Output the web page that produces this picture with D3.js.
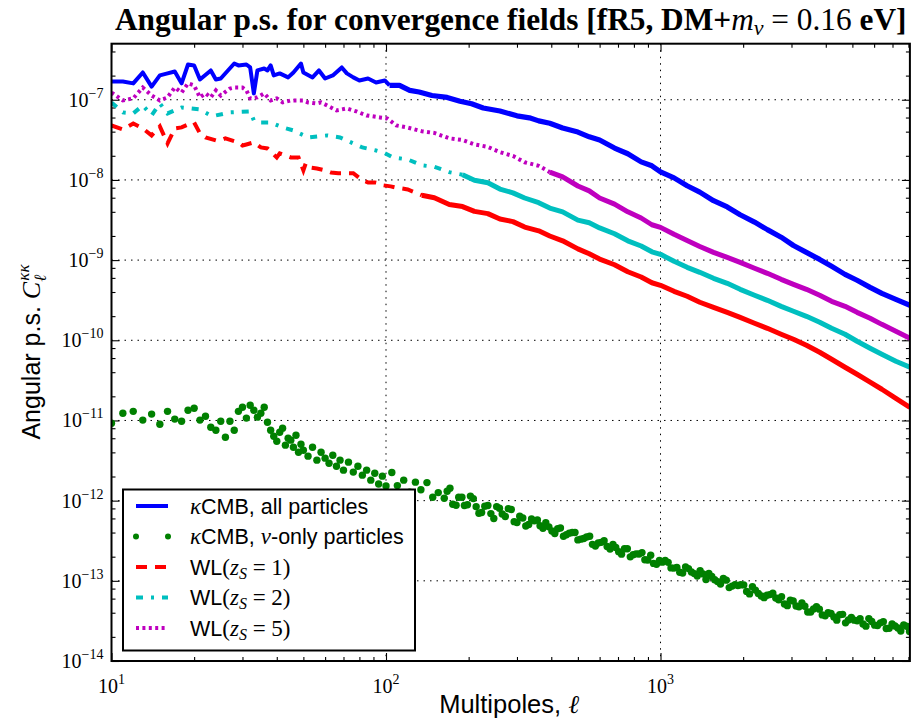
<!DOCTYPE html>
<html><head><meta charset="utf-8">
<script src="https://cdn.jsdelivr.net/npm/d3@7/dist/d3.min.js"></script>
<style>body{margin:0;background:#fff}svg{display:block}</style>
</head><body>
<svg id="c" width="911" height="721"></svg>
<script>
// ---------- data ----------
const xDomain = [10, 8100];
const yDomain = [1e-14, 5e-7];
const xMajorExps = [1, 2, 3];
const yMajorExps = [-14, -13, -12, -11, -10, -9, -8, -7];

const blueEll = [10,11,12,13,14,15,16,17,18,19,20,21,23,24,25,28,29,31,32,33,34,36,37,38,39,41,44,46,49,50,54,57,60,64,69,72,76,80,86,92,99,103,112,122,132,147,167,186,205,226,260,300,333,360,395,440,500,550,600,680,760,850,930,1000,1120,1250,1390,1560,1750,1950,2200,2450,2750,3050,3400,3800,4200,4700,5200,5800,6400,7200,8100];
const blueVal = [1.69e-7,1.69e-7,1.60e-7,2.19e-7,1.46e-7,2.01e-7,2.13e-7,2.25e-7,1.60e-7,2.75e-7,2.68e-7,1.79e-7,2.32e-7,1.79e-7,1.84e-7,2.83e-7,2.68e-7,2.75e-7,2.53e-7,1.20e-7,2.32e-7,2.45e-7,2.32e-7,2.68e-7,2.01e-7,2.13e-7,1.90e-7,2.19e-7,2.83e-7,2.19e-7,1.90e-7,2.32e-7,1.84e-7,2.01e-7,2.53e-7,2.13e-7,1.90e-7,1.74e-7,1.84e-7,1.64e-7,1.74e-7,1.51e-7,1.51e-7,1.31e-7,1.25e-7,1.13e-7,1.07e-7,9.6e-8,8.9e-8,7.9e-8,7.25e-8,6.3e-8,5.95e-8,5.45e-8,5.1e-8,4.45e-8,3.95e-8,3.45e-8,3.15e-8,2.50e-8,2.12e-8,1.68e-8,1.50e-8,1.26e-8,1.06e-8,8.45e-9,7.05e-9,5.5e-9,4.6e-9,3.68e-9,2.98e-9,2.40e-9,1.93e-9,1.52e-9,1.25e-9,1.02e-9,8.36e-10,6.64e-10,5.60e-10,4.57e-10,3.85e-10,3.24e-10,2.73e-10];

const greenEll = [10,11,12,13,14,15,16,17,18,19,20,21,22,23,24,25,26,27,28,29,30,31,32,33,34,35,36,37,38,39,40,41,42,43,44,45,46,47,48,49,50,52,54,56,58,60,62,64,66,68,70,73,76,79,82,85,88,91,94,97,100,
105,110,116,122,128,134,141,148,155,163,171,180,189,198,208,218,229,241,253,265,279,293,307,323,339,356,373,392,412,432,454,477,500,525,552,579,608,639,671,704,739,776,815,856,899,943,991,1040,1092,1147,1204,1264,1328,1394,1464,1537,1614,1694,1779,1868,1961,2059,2162,2271,2384,2503,2629,2760,2898,3043,3195,3355,3523,3699,3884,4078,4282,4496,4721,4957,5205,5465,5739,6026,6327,6643,6976,7324,7691,8075,
167,175,184,193,203,213,223,235,247,259,272,286,300,315,
331,347,364,382,402,422,443,465,488,512,538,565,593,623,655,687,721,757,795,835,877,921,967,1015,1066,1119,1175,1234,1296,1361,1429,1500,1575,1654,1736,1823,1914,2010,2110,2216,2327,2443,2565,2694,2828,2970,3118,3274,3438,3610,3790,3980,4179,4387,4607,4837,5079,5333,5600,5880,6174,6482,6806,7147,7504,7880];
const greenVal = [9.24e-12,1.23e-11,1.30e-11,1.01e-11,1.20e-11,8.98e-12,1.30e-11,1.04e-11,9.79e-12,1.34e-11,1.42e-11,1.01e-11,1.13e-11,8.24e-12,7.56e-12,9.79e-12,6.18e-12,9.79e-12,7.56e-12,1.30e-11,1.46e-11,1.07e-11,1.55e-11,1.34e-11,1.10e-11,1.23e-11,1.46e-11,9.51e-12,7.56e-12,6.36e-12,5.51e-12,7.14e-12,8.01e-12,4.92e-12,6.01e-12,5.68e-12,4.64e-12,6.55e-12,4.02e-12,5.06e-12,4.26e-12,3.59e-12,4.64e-12,3.20e-12,4.02e-12,3.39e-12,2.93e-12,3.69e-12,2.69e-12,3.20e-12,2.40e-12,3.02e-12,2.27e-12,2.69e-12,2.08e-12,2.40e-12,1.80e-12,2.20e-12,1.61e-12,2.02e-12,1.52e-12,
2.24e-12,1.54e-12,1.80e-12,1.27e-12,1.70e-12,1.37e-12,1.68e-12,1.10e-12,1.26e-12,1.07e-12,1.43e-12,8.77e-13,1.10e-12,8.87e-13,1.06e-12,6.97e-13,8.52e-13,6.89e-13,8.42e-13,6.81e-13,7.95e-13,5.47e-13,6.39e-13,4.82e-13,5.89e-13,5.73e-13,4.52e-13,4.71e-13,3.89e-13,4.55e-13,3.76e-13,4.01e-13,3.24e-13,3.37e-13,3.59e-13,2.71e-13,3.02e-13,2.68e-13,2.85e-13,2.31e-13,2.51e-13,1.99e-13,2.17e-13,2.25e-13,1.82e-13,1.65e-13,1.80e-13,1.79e-13,1.45e-13,1.47e-13,1.25e-13,1.42e-13,1.23e-13,1.34e-13,1.04e-13,1.13e-13,9.78e-14,1.07e-13,8.23e-14,8.97e-14,8.92e-14,7.38e-14,8.42e-14,6.97e-14,6.17e-14,6.73e-14,6.10e-14,6.35e-14,4.90e-14,5.60e-14,4.74e-14,4.82e-14,4.08e-14,4.76e-14,3.76e-14,4.01e-14,3.55e-14,3.78e-14,2.99e-14,3.50e-14,3.18e-14,2.89e-14,3.38e-14,2.80e-14,2.99e-14,2.54e-14,2.90e-14,2.58e-14,2.81e-14,2.33e-14,
1.31e-12,9.0e-13,1.10e-12,8.69e-13,1.14e-12,8.40e-13,7.11e-13,8.69e-13,5.98e-13,8.02e-13,6.34e-13,7.75e-13,5.33e-13,6.08e-13,
5.03e-13,5.61e-13,4.86e-13,5.30e-13,4.18e-13,4.46e-13,3.60e-13,3.93e-13,4.00e-13,3.31e-13,3.52e-13,2.85e-13,2.96e-13,3.16e-13,2.49e-13,2.60e-13,2.15e-13,2.51e-13,2.12e-13,2.16e-13,1.83e-13,2.09e-13,1.61e-13,1.71e-13,1.70e-13,1.44e-13,1.28e-13,1.49e-13,1.29e-13,1.15e-13,1.22e-13,1.24e-13,1.03e-13,9.10e-14,1.02e-13,8.59e-14,8.74e-14,8.90e-14,6.87e-14,7.66e-14,6.48e-14,6.60e-14,7.03e-14,5.81e-14,5.15e-14,5.74e-14,4.86e-14,5.30e-14,4.09e-14,4.46e-14,4.43e-14,3.67e-14,3.91e-14,3.23e-14,3.82e-14,3.24e-14,3.23e-14,3.37e-14,2.72e-14,3.12e-14,2.77e-14,3.09e-14,2.56e-14,2.73e-14,2.37e-14,2.71e-14];

const redEll = [10,11,12,13,14,15,16,17,18,19,20,21,22,24,25,26,29,30,31,33,35,37,40,41,45,48,50,51,53,56,60,63,67,72,76,82,86,91,95,98,104,108,120,135,150,170,190,210,235,260,290,320,360,395,440,500,550,600,680,760,850,930,1000,1120,1250,1390,1560,1750,1950,2200,2450,2750,3050,3400,3800,4200,4700,5200,5800,6400,7200,8100];
const redVal = [4.78e-8,4.27e-8,5.06e-8,4.39e-8,3.59e-8,4.65e-8,2.85e-8,4.39e-8,4.52e-8,4.92e-8,5.21e-8,3.80e-8,3.39e-8,3.11e-8,3.11e-8,3.29e-8,2.94e-8,2.69e-8,2.77e-8,2.94e-8,2.54e-8,2.47e-8,1.91e-8,2.14e-8,1.91e-8,1.91e-8,1.315e-8,1.61e-8,1.43e-8,1.39e-8,1.315e-8,1.24e-8,1.21e-8,1.21e-8,1.21e-8,9.87e-9,9.32e-9,9.32e-9,9.05e-9,8.55e-9,8.31e-9,8.07e-9,7.6e-9,6.45e-9,6.0e-9,4.95e-9,4.65e-9,4.05e-9,3.80e-9,3.25e-9,3.02e-9,2.58e-9,2.32e-9,2.00e-9,1.74e-9,1.38e-9,1.20e-9,1.03e-9,8.75e-10,7.15e-10,6.15e-10,5.22e-10,4.85e-10,4.08e-10,3.54e-10,2.98e-10,2.58e-10,2.23e-10,1.93e-10,1.63e-10,1.41e-10,1.19e-10,1.03e-10,8.67e-11,7.09e-11,5.80e-11,4.61e-11,3.77e-11,3.00e-11,2.45e-11,1.89e-11,1.46e-11];

const cyanEll = [10,11,12,13,14,15,16,18,21,23,24,27,32,33,34,38,42,46,52,61,68,76,82,92,98,106,120,135,150,170,190,210,235,260,290,320,360,395,440,500,550,600,680,760,850,930,1000,1120,1250,1390,1560,1750,1950,2200,2450,2750,3050,3400,3800,4200,4700,5200,5800,6400,7200,8100];
const cyanVal = [9.26e-8,6.95e-8,6.75e-8,8.49e-8,6.37e-8,9.0e-8,6.75e-8,8.02e-8,7.57e-8,6.37e-8,6.37e-8,6.95e-8,7.15e-8,5.52e-8,5.21e-8,5.21e-8,4.52e-8,4.14e-8,3.39e-8,3.59e-8,3.39e-8,2.85e-8,2.54e-8,2.33e-8,2.20e-8,1.91e-8,1.80e-8,1.52e-8,1.46e-8,1.25e-8,1.16e-8,9.9e-9,9.2e-9,7.7e-9,6.9e-9,5.95e-9,5.2e-9,4.45e-9,4.0e-9,3.15e-9,2.92e-9,2.52e-9,2.13e-9,1.74e-9,1.50e-9,1.27e-9,1.18e-9,9.65e-10,8.13e-10,7.04e-10,5.93e-10,5.13e-10,4.32e-10,3.64e-10,3.15e-10,2.65e-10,2.30e-10,1.99e-10,1.68e-10,1.41e-10,1.19e-10,9.72e-11,7.95e-11,6.69e-11,5.48e-11,4.61e-11];

const magentaEll = [10,11,12,13,14,15,16,17,18,19,20,21,22,23,24,25,27,28,30,31,32,34,36,38,40,42,45,50,52,56,58,63,66,72,78,85,95,101,109,120,135,150,170,190,210,235,260,290,320,360,395,440,500,550,600,680,760,850,930,1000,1120,1250,1390,1560,1750,1950,2200,2450,2750,3050,3400,3800,4200,4700,5200,5800,6400,7200,8100];
const magentaVal = [1.23e-7,9.8e-8,1.04e-7,1.42e-7,1.13e-7,9.8e-8,1.07e-7,1.42e-7,1.23e-7,1.60e-7,1.51e-7,1.07e-7,1.20e-7,1.07e-7,1.31e-7,1.13e-7,1.38e-7,1.42e-7,1.42e-7,1.31e-7,1.04e-7,1.07e-7,1.20e-7,9.8e-8,1.04e-7,9.26e-8,9.8e-8,9.8e-8,9.26e-8,9.0e-8,9.26e-8,8.02e-8,7.36e-8,7.79e-8,7.15e-8,6.37e-8,6.02e-8,5.85e-8,4.78e-8,4.5e-8,4.05e-8,3.85e-8,3.30e-8,3.15e-8,2.78e-8,2.58e-8,2.22e-8,1.99e-8,1.66e-8,1.50e-8,1.25e-8,1.09e-8,8.4e-9,7.3e-9,5.95e-9,5.0e-9,4.0e-9,3.35e-9,2.76e-9,2.56e-9,2.10e-9,1.76e-9,1.48e-9,1.25e-9,1.08e-9,9.38e-10,7.90e-10,6.84e-10,5.76e-10,4.99e-10,4.32e-10,3.64e-10,3.06e-10,2.65e-10,2.23e-10,1.88e-10,1.58e-10,1.30e-10,1.06e-10];

const legendLabels = [
  [["κ","m"],["CMB, all particles","s"]],
  [["κ","m"],["CMB, ","s"],["ν","m"],["-only particles","s"]],
  [["WL","s"],["(","r"],["z","m"],["S","sub"],[" = 1)","r"]],
  [["WL","s"],["(","r"],["z","m"],["S","sub"],[" = 2)","r"]],
  [["WL","s"],["(","r"],["z","m"],["S","sub"],[" = 5)","r"]]
];

// ---------- layout ----------
const M = {left:111.5, right:909.9, top:43.7, bottom:661};
const SANS = "'Liberation Sans', Arial, sans-serif";
const SERIF = "'Liberation Serif', 'Times New Roman', serif";
const svg = d3.select('#c');
const x = d3.scaleLog().domain(xDomain).range([M.left, M.right]);
const y = d3.scaleLog().domain(yDomain).range([M.bottom, M.top]);

svg.append('rect').attr('width',911).attr('height',721).attr('fill','#fff');
svg.append('defs').append('clipPath').attr('id','clip')
  .append('rect').attr('x',M.left).attr('y',M.top).attr('width',M.right-M.left).attr('height',M.bottom-M.top);

// grid
const xMajor = xMajorExps.map(e=>Math.pow(10,e));
const yMajor = yMajorExps.map(e=>Math.pow(10,e));
const grid = svg.append('g');
xMajor.forEach(v=>{ grid.append('line').attr('x1',x(v)).attr('x2',x(v)).attr('y1',M.top).attr('y2',M.bottom)
  .attr('stroke','#000').attr('stroke-width',1).attr('stroke-dasharray','1.5,5'); });
yMajor.forEach(v=>{ grid.append('line').attr('x1',M.left).attr('x2',M.right).attr('y1',y(v)).attr('y2',y(v))
  .attr('stroke','#000').attr('stroke-width',1).attr('stroke-dasharray','1.5,5'); });

// ticks via d3 axes (inward)
const xMinor = []; [1,2,3].forEach(e=>{ for(let k=2;k<=9;k++){ const v=k*Math.pow(10,e); if(v<=xDomain[1]) xMinor.push(v);} });
const yMinor = []; for(let e=-14;e<=-7;e++){ [2,4,6,8].forEach(k=>{ const v=k*Math.pow(10,e); if(v<=yDomain[1]) yMinor.push(v);}); }
function tickGroup(axis, tf){ const g=svg.append('g').attr('transform',tf).call(axis); g.select('.domain').remove(); g.selectAll('text').remove(); g.selectAll('line').attr('stroke','#000').attr('stroke-width',1.1); }
tickGroup(d3.axisBottom(x).tickValues(xMajor).tickSizeInner(-8).tickSizeOuter(0), `translate(0,${M.bottom})`);
tickGroup(d3.axisBottom(x).tickValues(xMinor).tickSizeInner(-4).tickSizeOuter(0), `translate(0,${M.bottom})`);
tickGroup(d3.axisTop(x).tickValues(xMajor).tickSizeInner(-8).tickSizeOuter(0), `translate(0,${M.top})`);
tickGroup(d3.axisTop(x).tickValues(xMinor).tickSizeInner(-4).tickSizeOuter(0), `translate(0,${M.top})`);
tickGroup(d3.axisLeft(y).tickValues(yMajor).tickSizeInner(-8).tickSizeOuter(0), `translate(${M.left},0)`);
tickGroup(d3.axisLeft(y).tickValues(yMinor).tickSizeInner(-4).tickSizeOuter(0), `translate(${M.left},0)`);
tickGroup(d3.axisRight(y).tickValues(yMajor).tickSizeInner(-8).tickSizeOuter(0), `translate(${M.right},0)`);
tickGroup(d3.axisRight(y).tickValues(yMinor).tickSizeInner(-4).tickSizeOuter(0), `translate(${M.right},0)`);

// series
const series = [
  {ell:blueEll, val:blueVal, color:'#0000ff', kind:'line', dash:null, w:4, tw:5.2, solidFrom:null},
  {ell:greenEll, val:greenVal, color:'#008000', kind:'dots', r:3.7},
  {ell:redEll, val:redVal, color:'#ff0000', kind:'line', dash:'11,8', w:4, tw:5, solidFrom:140},
  {ell:cyanEll, val:cyanVal, color:'#00bfbf', kind:'line', dash:'7,8,3,8', w:4, tw:5, solidFrom:200},
  {ell:magentaEll, val:magentaVal, color:'#bf00bf', kind:'line', dash:'3,3.4', w:4, tw:5, solidFrom:420}
];
const plot = svg.append('g').attr('clip-path','url(#clip)');
const line = d3.line().x(d=>x(d[0])).y(d=>y(d[1]));
series.forEach(s=>{
  const pts = s.ell.map((l,i)=>[l, s.val[i]]);
  if(s.kind==='dots'){
    plot.append('g').selectAll('circle').data(pts).join('circle')
      .attr('cx',d=>x(d[0])).attr('cy',d=>y(d[1])).attr('r',s.r).attr('fill',s.color);
  } else if(!s.dash){
    const idx = pts.findIndex(d=>d[0]>=100);
    plot.append('path').datum(pts.slice(0,idx+1)).attr('d',line).attr('fill','none')
      .attr('stroke',s.color).attr('stroke-width',s.w).attr('stroke-linejoin','round');
    plot.append('path').datum(pts.slice(idx)).attr('d',line).attr('fill','none')
      .attr('stroke',s.color).attr('stroke-width',s.tw).attr('stroke-linejoin','round');
  } else {
    const idx = pts.findIndex(d=>d[0]>=s.solidFrom);
    plot.append('path').datum(pts.slice(0,idx)).attr('d',line).attr('fill','none')
      .attr('stroke',s.color).attr('stroke-width',s.w).attr('stroke-dasharray',s.dash);
    plot.append('path').datum(pts.slice(Math.max(0,idx-1))).attr('d',line).attr('fill','none')
      .attr('stroke',s.color).attr('stroke-width',s.tw).attr('stroke-linejoin','round');
  }
});

// frame
svg.append('rect').attr('x',M.left).attr('y',M.top).attr('width',M.right-M.left).attr('height',M.bottom-M.top)
  .attr('fill','none').attr('stroke','#000').attr('stroke-width',2);

// tick labels
yMajorExps.forEach(e=>{
  const t = svg.append('text').attr('x',M.left-8).attr('y',y(Math.pow(10,e))+7).attr('text-anchor','end')
    .attr('font-family',SERIF).attr('font-size',20).attr('fill','#000');
  t.append('tspan').text('10');
  t.append('tspan').attr('font-size',14).attr('dy',-9).text('−'+Math.abs(e));
});
xMajorExps.forEach(e=>{
  const t = svg.append('text').attr('x',x(Math.pow(10,e))).attr('y',693).attr('text-anchor','middle')
    .attr('font-family',SERIF).attr('font-size',20).attr('fill','#000');
  t.append('tspan').text('10');
  t.append('tspan').attr('font-size',14).attr('dy',-9).text(String(e));
});

// title
function drawTitle(fs){
  const t = svg.append('text').attr('x',(M.left+M.right)/2).attr('y',30).attr('text-anchor','middle')
    .attr('font-family',SERIF).attr('font-size',fs).attr('fill','#000');
  t.append('tspan').attr('font-weight','bold').text('Angular p.s. for convergence fields [fR5, DM+');
  t.append('tspan').attr('font-style','italic').text('m');
  t.append('tspan').attr('font-style','italic').attr('font-size',fs*0.7).attr('dy',5).text('ν');
  t.append('tspan').attr('dy',-5).text(' = 0.16');
  t.append('tspan').attr('font-weight','bold').text(' eV]');
  return t;
}
let tt = drawTitle(24);
const tw = tt.node().getComputedTextLength();
if(tw>0){ tt.remove(); tt = drawTitle(24*792/tw); }

// axis labels
const xl = svg.append('text').attr('x',509).attr('y',713).attr('text-anchor','middle').attr('font-size',25.5).attr('fill','#000');
xl.append('tspan').attr('font-family',SANS).text('Multipoles, ');
xl.append('tspan').attr('font-family',SERIF).attr('font-style','italic').text('ℓ');

const yl = svg.append('text').attr('transform','translate(40,352) rotate(-90)').attr('text-anchor','middle').attr('font-size',25).attr('fill','#000');
yl.append('tspan').attr('font-family',SANS).text('Angular p.s. ');
yl.append('tspan').attr('font-family',SERIF).attr('font-style','italic').attr('font-size',26).text('C');
yl.append('tspan').attr('font-family',SERIF).attr('font-style','italic').attr('font-size',17).attr('dy',6).text('ℓ');
yl.append('tspan').attr('font-family',SERIF).attr('font-style','italic').attr('font-size',17).attr('dx',-6).attr('dy',-17).text('κκ');

// legend
const L = {x:123, y:489.5, w:292, h:161};
const lg = svg.append('g');
lg.append('rect').attr('x',L.x).attr('y',L.y).attr('width',L.w).attr('height',L.h).attr('fill','#fff').attr('stroke','#000').attr('stroke-width',2);
const rowY = i => 506 + i*30.5;
series.forEach((s,i)=>{
  const yy = rowY(i);
  if(s.kind==='dots'){
    [136,168].forEach(cx=>lg.append('circle').attr('cx',cx).attr('cy',yy).attr('r',3).attr('fill',s.color));
  } else {
    const h = lg.append('line').attr('x1',136).attr('x2',168).attr('y1',yy).attr('y2',yy).attr('stroke',s.color).attr('stroke-width',s.w);
    if(s.dash) h.attr('stroke-dasharray',s.dash);
  }
  const t = lg.append('text').attr('x',190).attr('y',yy+7.5).attr('font-size',21.5).attr('fill','#000');
  let shifted = false;
  legendLabels[i].forEach(([txt,kind])=>{
    const sp = t.append('tspan').text(txt);
    if(kind==='s'){ sp.attr('font-family',SANS); }
    else if(kind==='r'){ sp.attr('font-family',SERIF).attr('font-size',23); }
    else if(kind==='m'){ sp.attr('font-family',SERIF).attr('font-style','italic').attr('font-size',23); }
    else if(kind==='sub'){ sp.attr('font-family',SERIF).attr('font-style','italic').attr('font-size',16).attr('dy',4); shifted=true; return; }
    if(shifted){ sp.attr('dy',-4); shifted=false; }
  });
});
</script>
</body></html>
